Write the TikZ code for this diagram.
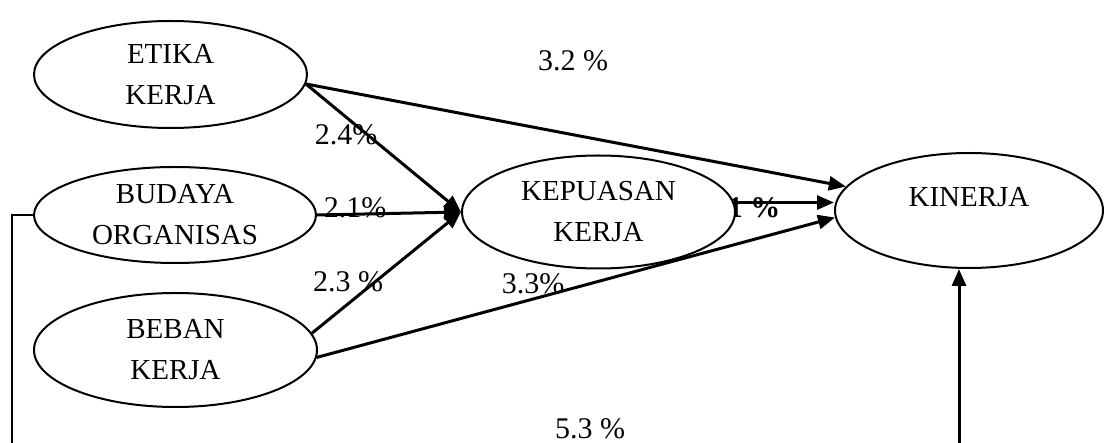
\documentclass[tikz,border=0pt]{standalone}
\usepackage{fontspec}
\setmainfont{Liberation Serif}
\usetikzlibrary{shapes.geometric,arrows.meta}
\tikzset{
  var/.style={ellipse,draw,line width=1pt,fill=white,inner sep=0pt,align=center,
    font=\fontsize{14.5}{20.5}\selectfont},
  lbl/.style={inner sep=0pt,font=\fontsize{15}{18}\selectfont},
  arr/.style={line width=1.5pt,-{Triangle[length=8.5pt,width=7pt]}},
  conn/.style={line width=1.1pt}
}
\begin{document}
\begin{tikzpicture}[x=0.5pt,y=-0.5pt]
\useasboundingbox (0,0) rectangle (1104,443);
% labels
\node[lbl] (l32) at (573,61) {3.2 \%};
\node[lbl] (l24) at (346,135) {2.4\%};
\node[lbl] (l21) at (355,208) {2.1\%};
\node[lbl] (l23) at (348,282) {2.3 \%};
\node[lbl] (l33) at (533,284) {3.3\%};
\node[lbl,font=\fontsize{15}{18}\selectfont\bfseries] (l1) at (754,208) {1 \%};
\node[lbl] (l53) at (590,429) {5.3 \%};
% variables
\node[var,minimum width=136.5pt,minimum height=53.5pt] (etika) at (170.5,74.5) {ETIKA\\KERJA};
\node[var,minimum width=141pt,minimum height=48pt] (budaya) at (175,215) {BUDAYA\\ORGANISAS};
\node[var,minimum width=141.5pt,minimum height=57pt] (beban) at (175.5,350) {BEBAN\\KERJA};
\node[var,minimum width=136.5pt,minimum height=56.5pt] (kep) at (598.5,212) {KEPUASAN\\KERJA};
\node[var,minimum width=134pt,minimum height=57.5pt] (kin) at (969,210.5) {};
\node[inner sep=0pt,font=\fontsize{14.5}{20.5}\selectfont] (kinlbl) at (969,197) {KINERJA};
% free ends
\coordinate (bl) at (12,443);
\coordinate (br) at (959,443);
% connectors
\draw[arr] (etika.-4) -- (kep.west);
\draw[arr] (etika.-4) -- (kin.169);
\draw[arr] (budaya.east) -- (kep.west);
\draw[arr] (beban.7) -- (kep.west);
\draw[arr] (beban.-3) -- (kin.183);
\draw[arr] (kep.4) -- (kep.4 -| kin.west);
\draw[conn] (budaya.west) -| (bl);
\draw[arr] (br) -- (br |- kin.south);
\end{tikzpicture}
\end{document}
